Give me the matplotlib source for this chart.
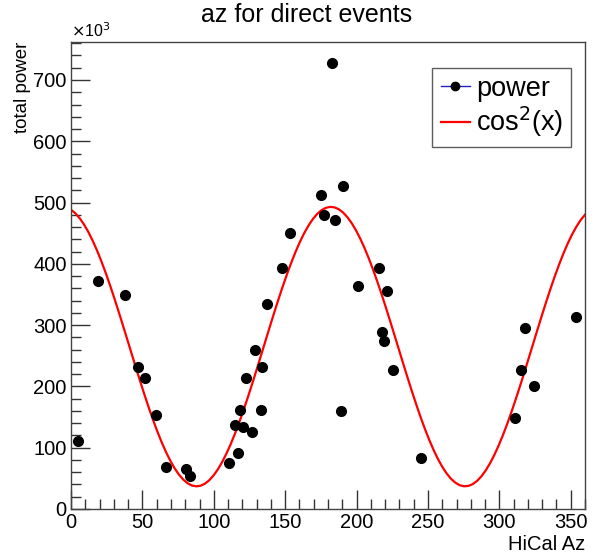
import numpy as np
import matplotlib
matplotlib.use("Agg")
import matplotlib.pyplot as plt
from matplotlib.ticker import MultipleLocator

plt.rcParams['font.family'] = ['Liberation Sans', 'DejaVu Sans']

# HiCal azimuth (deg) and total power (x1e3) per direct event
az = [5.1, 19.1, 38.0, 46.6, 51.7, 59.4, 66.2, 80.2, 83.4, 110.7,
      117.0, 115.2, 118.7, 120.5, 126.8, 122.8, 128.9, 134.0, 132.9, 137.5,
      148.0, 153.1, 175.3, 176.9, 182.7, 184.6, 188.8, 190.4, 201.2, 215.6,
      217.5, 219.3, 221.2, 225.4, 245.2, 311.0, 315.2, 318.0, 324.5, 354.0]
power = [111, 372, 349, 232, 213, 153, 69, 65, 54, 75,
         92, 137, 161, 134, 126, 213, 259, 232, 161, 334,
         394, 451, 512, 480, 727, 472, 160, 527, 364, 394,
         288, 274, 356, 226, 84, 148, 226, 296, 200, 314]

# cos^2 fit: offset + amp * cos^2(freq * (x - peak))
fit_offset = 37.0
fit_amp = 456.0
fit_freq = 0.957
fit_peak = 182.0

xf = np.linspace(0, 360, 120)
yf = fit_offset + fit_amp * np.cos(np.radians(fit_freq * (xf - fit_peak))) ** 2

fig = plt.figure(figsize=(5.95, 5.56), dpi=100)
ax = fig.add_axes([71 / 595, 1 - 509 / 556, (585 - 71) / 595, (509 - 42) / 556])

ax.plot(xf, yf, color='red', lw=1.6, label=r'cos$^2$(x)', zorder=2)
ax.plot(az, power, 'o', color='black', ms=7, mec='black',
        label='power', zorder=3)

ax.set_xlim(0, 360)
ax.set_ylim(0, 762)
ax.xaxis.set_major_locator(MultipleLocator(50))
ax.xaxis.set_minor_locator(MultipleLocator(10))
ax.yaxis.set_major_locator(MultipleLocator(100))
ax.yaxis.set_minor_locator(MultipleLocator(20))
ax.tick_params(which='both', direction='in', top=False, right=False,
               labelsize=14.5, color='#333333', width=1)
ax.tick_params(which='major', length=14, pad=3)
ax.tick_params(which='minor', length=7)
for s in ax.spines.values():
    s.set_linewidth(1)
    s.set_color('#444444')

fig.text(307 / 595, 1 - 15 / 556, 'az for direct events', fontsize=18,
         ha='center', va='center')
ax.text(0, 1.005, r'$\times$10$^3$', transform=ax.transAxes,
        fontsize=11.5, ha='left', va='bottom')
ax.set_ylabel('total power', fontsize=13.5, loc='top', labelpad=2)
ax.set_xlabel('HiCal Az', fontsize=14.5, loc='right', labelpad=2)

# legend: blue line through the black marker for the data entry
h_pts, = ax.plot([], [], 'o-', color='#2020c0', mfc='black', mec='black',
                 ms=6, lw=1)
h_fit, = ax.plot([], [], color='red', lw=1.6)
leg = ax.legend([h_pts, h_fit], ['power', r'cos$^2$(x)'],
                loc='upper right', bbox_to_anchor=(0.973, 0.945),
                fontsize=19.5, frameon=True, fancybox=False,
                handlelength=1.1, handletextpad=0.2, borderpad=0.3,
                labelspacing=0.1, borderaxespad=0)
leg.get_frame().set_edgecolor('#333333')
leg.get_frame().set_linewidth(1)

fig.savefig('out.png', dpi=100)
